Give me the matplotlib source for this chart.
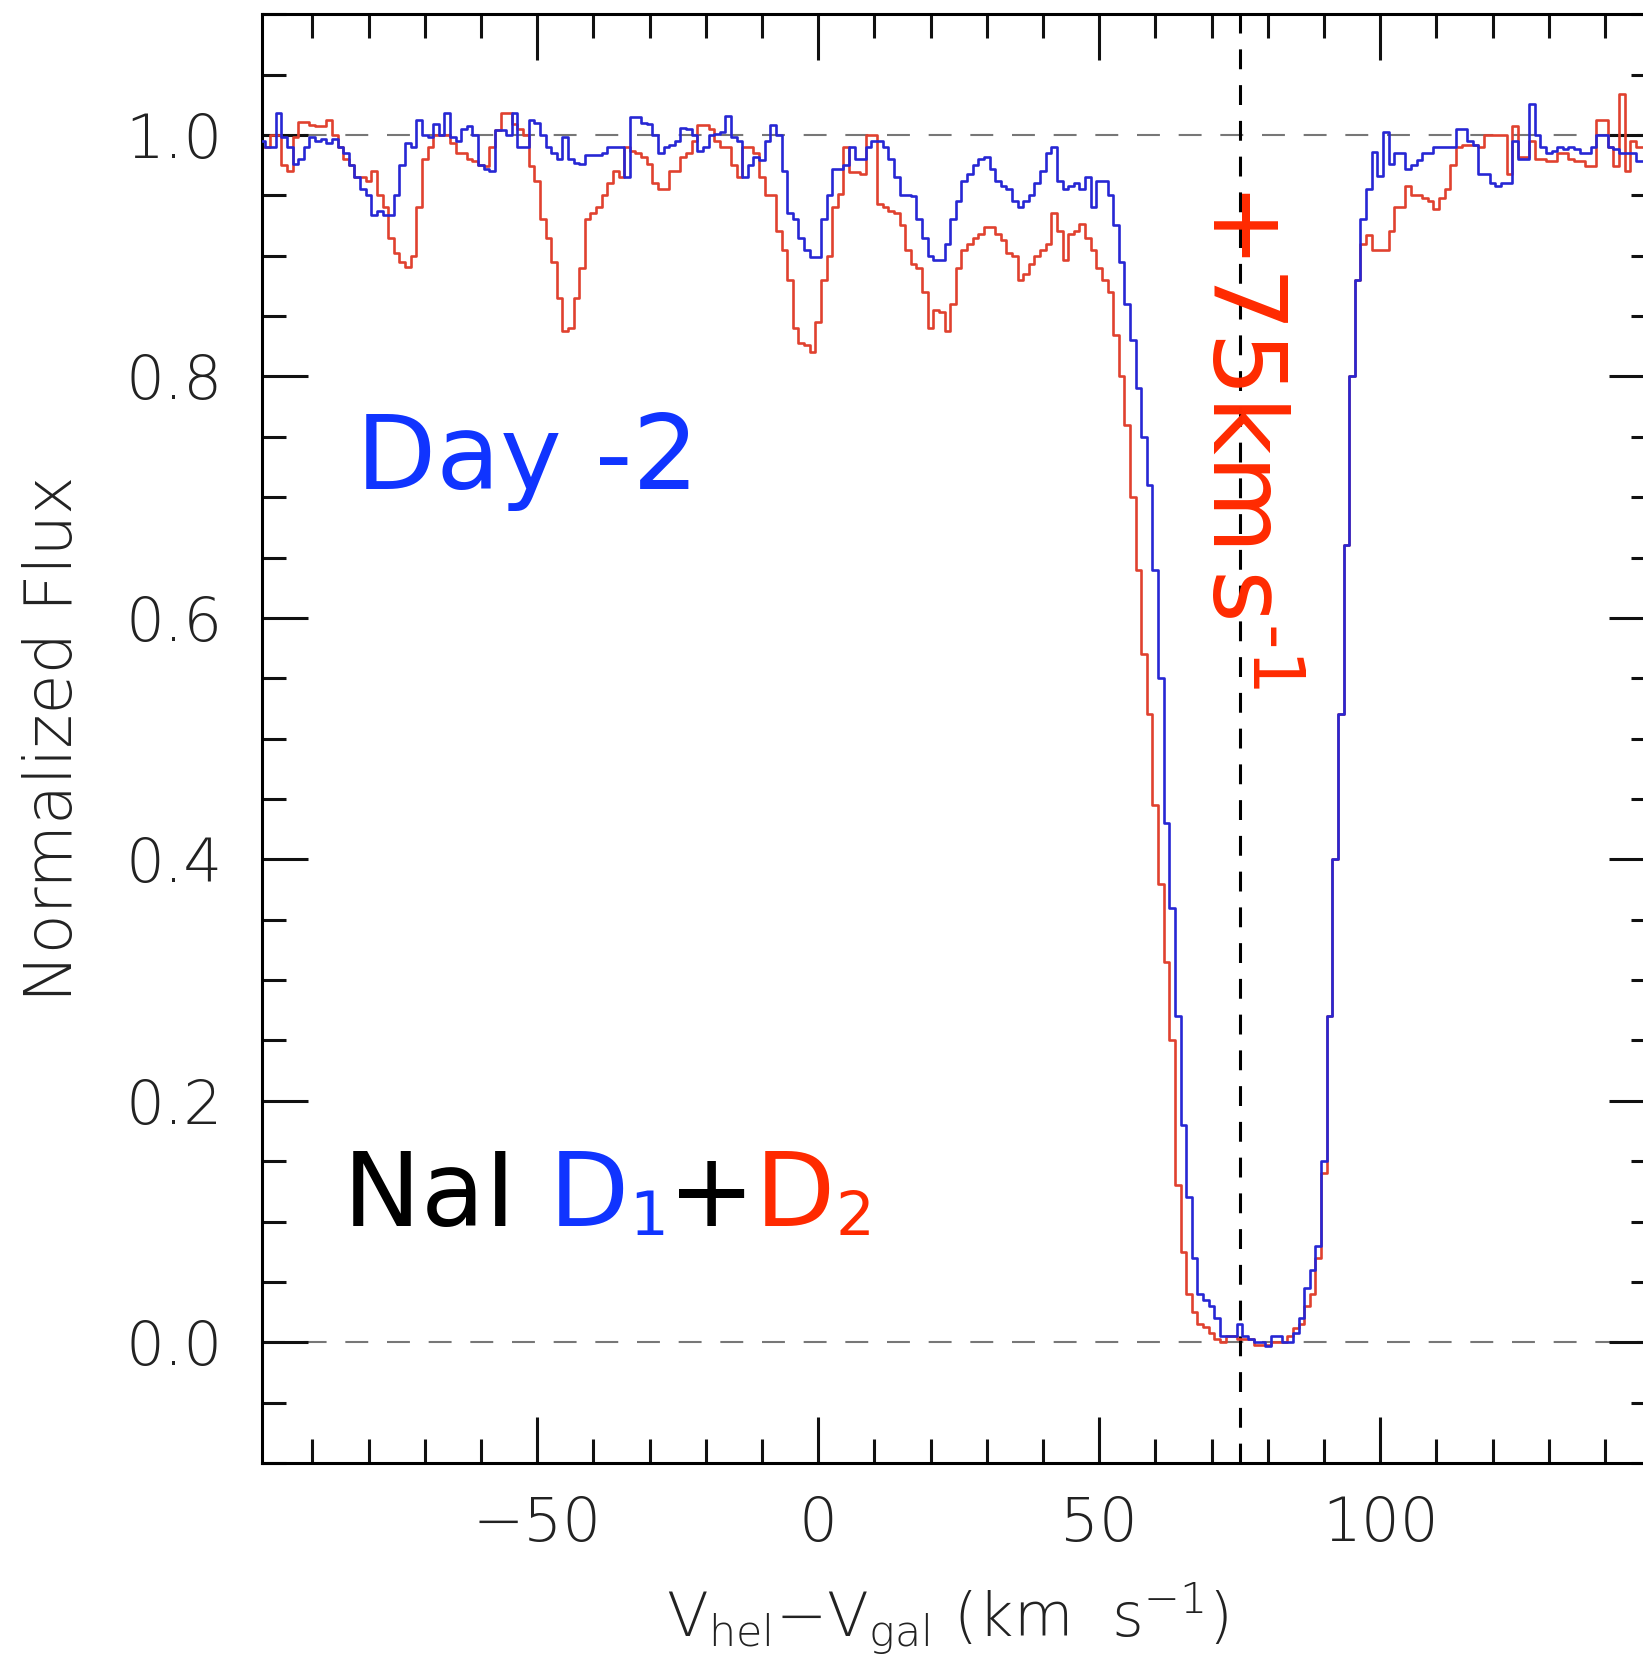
import matplotlib
matplotlib.use('Agg')
import matplotlib.pyplot as plt
from matplotlib.ticker import MultipleLocator, FormatStrFormatter
import numpy as np

# velocity bins (km/s), one per value below, starting at -99
v_first = -99

# NaI D1 (blue), normalized flux, v = -99 ... 147
d1_flux = [
    0.995, 0.99, 0.99, 1.018, 0.998, 0.99, 0.976, 0.98, 0.99, 0.998,      # -99
    0.995, 0.997, 0.993, 0.997, 0.99, 0.985, 0.975, 0.965, 0.955, 0.95,   # -89
    0.934, 0.937, 0.934, 0.934, 0.95, 0.975, 0.993, 0.99, 1.012, 1.0,     # -79
    0.998, 1.009, 1.0, 1.018, 0.998, 0.995, 1.005, 1.007, 1.0, 0.975,     # -69
    0.972, 0.97, 1.004, 1.004, 1.0, 1.018, 0.99, 0.99, 1.012, 1.01,       # -59
    1.0, 0.99, 0.985, 0.98, 0.998, 0.98, 0.977, 0.976, 0.983, 0.983,      # -49
    0.983, 0.985, 0.99, 0.99, 0.99, 0.965, 1.015, 1.015, 1.01, 1.009,     # -39
    1.0, 0.985, 0.99, 0.992, 0.995, 1.006, 1.005, 1.0, 0.987, 0.99,       # -29
    1.0, 1.001, 1.002, 1.016, 0.998, 0.995, 0.965, 0.975, 0.982, 0.979,   # -19
    0.995, 1.008, 1.0, 0.97, 0.935, 0.93, 0.915, 0.905, 0.899, 0.899,     # -9
    0.93, 0.95, 0.972, 0.972, 0.975, 0.99, 0.98, 0.98, 0.99, 0.995,       # 1
    0.995, 0.99, 0.98, 0.965, 0.95, 0.95, 0.949, 0.93, 0.915, 0.9,        # 11
    0.896, 0.896, 0.91, 0.93, 0.945, 0.962, 0.968, 0.975, 0.98, 0.982,    # 21
    0.972, 0.962, 0.958, 0.955, 0.945, 0.94, 0.945, 0.95, 0.96, 0.97,     # 31
    0.985, 0.99, 0.962, 0.955, 0.958, 0.96, 0.955, 0.965, 0.94, 0.962,    # 41
    0.962, 0.95, 0.925, 0.895, 0.86, 0.83, 0.79, 0.75, 0.71, 0.64,        # 51
    0.55, 0.43, 0.36, 0.27, 0.18, 0.12, 0.07, 0.04, 0.035, 0.03,          # 61
    0.02, 0.005, 0.005, 0.005, 0.015, 0.005, 0.003, 0.0, 0.0, -0.003,     # 71
    0.005, 0.005, 0.0, 0.0, 0.008, 0.02, 0.045, 0.06, 0.08, 0.15,         # 81
    0.27, 0.40, 0.52, 0.66, 0.80, 0.88, 0.93, 0.955, 0.986, 0.966,        # 91
    1.002, 0.976, 0.985, 0.985, 0.972, 0.975, 0.979, 0.985, 0.985, 0.99,  # 101
    0.99, 0.99, 0.99, 1.005, 1.005, 0.995, 0.992, 0.968, 0.968, 0.96,     # 111
    0.958, 0.96, 0.96, 0.995, 0.98, 0.98, 1.026, 1.0, 0.99, 0.985,        # 121
    0.987, 0.99, 0.988, 0.99, 0.988, 0.985, 0.985, 0.99, 1.0, 1.0,        # 131
    0.99, 0.988, 0.985, 0.985, 0.985, 0.978, 0.978,                       # 141
]

# NaI D2 (red), normalized flux, v = -99 ... 147
d2_flux = [
    0.99, 0.99, 1.0, 1.0, 0.975, 0.97, 0.998, 1.011, 1.011, 1.008,        # -99
    1.007, 1.007, 1.012, 1.0, 0.99, 0.98, 0.975, 0.965, 0.965, 0.962,     # -89
    0.97, 0.95, 0.94, 0.915, 0.902, 0.895, 0.891, 0.9, 0.94, 0.98,        # -79
    0.99, 1.0, 1.0, 1.0, 0.993, 0.985, 0.985, 0.98, 0.978, 0.975,         # -69
    0.974, 0.99, 1.004, 1.018, 1.018, 1.009, 1.005, 1.0, 0.974, 0.962,    # -59
    0.93, 0.915, 0.895, 0.865, 0.838, 0.84, 0.865, 0.89, 0.93, 0.935,     # -49
    0.94, 0.95, 0.96, 0.97, 0.965, 0.99, 0.987, 0.985, 0.982, 0.976,      # -39
    0.96, 0.955, 0.955, 0.97, 0.97, 0.982, 0.985, 0.995, 1.008, 1.008,    # -29
    1.005, 0.995, 0.99, 0.99, 0.975, 0.965, 0.99, 0.99, 0.985, 0.965,     # -19
    0.95, 0.95, 0.92, 0.905, 0.88, 0.84, 0.828, 0.826, 0.82, 0.845,       # -9
    0.88, 0.9, 0.94, 0.951, 0.99, 0.969, 0.969, 0.968, 1.0, 1.0,          # 1
    0.943, 0.94, 0.937, 0.935, 0.925, 0.905, 0.893, 0.89, 0.87, 0.84,     # 11
    0.855, 0.853, 0.838, 0.86, 0.89, 0.905, 0.91, 0.915, 0.918, 0.924,    # 21
    0.924, 0.918, 0.913, 0.902, 0.9, 0.88, 0.885, 0.893, 0.9, 0.905,      # 31
    0.91, 0.935, 0.92, 0.896, 0.918, 0.92, 0.926, 0.915, 0.905, 0.89,     # 41
    0.88, 0.87, 0.834, 0.80, 0.76, 0.70, 0.64, 0.57, 0.52, 0.445,         # 51
    0.38, 0.315, 0.25, 0.13, 0.075, 0.04, 0.025, 0.015, 0.013, 0.008,     # 61
    0.003, 0.0, 0.005, 0.005, 0.003, 0.003, 0.003, -0.002, -0.002, -0.002,  # 71
    0.0, 0.0, 0.0, 0.005, 0.012, 0.015, 0.03, 0.04, 0.07, 0.14,           # 81
    0.27, 0.40, 0.52, 0.66, 0.80, 0.88, 0.91, 0.917, 0.905, 0.905,        # 91
    0.905, 0.92, 0.94, 0.94, 0.958, 0.95, 0.95, 0.948, 0.945, 0.939,      # 101
    0.948, 0.955, 0.975, 0.99, 0.992, 0.992, 0.992, 0.99, 1.0, 1.0,       # 111
    1.0, 1.0, 0.968, 1.007, 0.982, 0.982, 0.995, 0.98, 0.98, 0.978,       # 121
    0.978, 0.985, 0.985, 0.98, 0.978, 0.978, 0.974, 0.974, 1.012, 1.012,  # 131
    0.99, 0.974, 1.034, 0.97, 0.995, 0.99, 0.99,                          # 141
]

v_cloud = 75          # marked velocity, km/s
day_label = 'Day -2'

vel = np.arange(v_first, v_first + len(d1_flux))

red_line = '#e0412f'
blue_line = '#2727d4'
red_txt = '#ff2a00'
blue_txt = '#1034ff'

# light roman for the axis labels in mathtext, normal sans for annotations
plt.rcParams['mathtext.fontset'] = 'custom'
plt.rcParams['mathtext.rm'] = 'DejaVu Sans:light'
plt.rcParams['mathtext.sf'] = 'DejaVu Sans'
plt.rcParams['mathtext.it'] = 'DejaVu Sans:italic'
plt.rcParams['mathtext.bf'] = 'DejaVu Sans:bold'

fig = plt.figure(figsize=(16.43, 16.66), dpi=100)
ax = fig.add_axes([0.1593, 0.1218, 0.8483, 0.8697])

ax.axhline(1.0, color='#777777', lw=1.5, dashes=(11, 9), zorder=1)
ax.axhline(0.0, color='#777777', lw=1.5, dashes=(11, 9), zorder=1)
ax.axvline(v_cloud, color='black', lw=2.2, dashes=(6.5, 5.2), zorder=1)

ax.step(vel, d2_flux, where='mid', color=red_line, lw=1.9, zorder=2)
ax.step(vel, d1_flux, where='mid', color=blue_line, lw=1.9, zorder=3)

ax.set_xlim(-99, 149)
ax.set_ylim(-0.1, 1.1)

ax.xaxis.set_major_locator(MultipleLocator(50))
ax.xaxis.set_minor_locator(MultipleLocator(10))
ax.yaxis.set_major_locator(MultipleLocator(0.2))
ax.yaxis.set_minor_locator(MultipleLocator(0.05))
ax.yaxis.set_major_formatter(FormatStrFormatter('%.1f'))

ax.tick_params(which='both', direction='in', top=True, right=True, width=2.2, color='#111111')
ax.tick_params(which='major', length=33)
ax.tick_params(which='minor', length=17)
ax.tick_params(axis='x', labelsize=44, pad=23, labelcolor='#222222')
ax.tick_params(axis='y', labelsize=44, pad=28, labelcolor='#222222')
for lab in ax.get_xticklabels() + ax.get_yticklabels():
    lab.set_fontweight('light')
for s in ax.spines.values():
    s.set_linewidth(2.2)

ax.set_xlabel(r'V$_{\rm hel}$$-$V$_{\rm gal}$ (km  s$^{-1}$)', fontsize=44,
              fontweight='light', color='#222222')
ax.xaxis.set_label_coords(0.492, -0.081)
ax.set_ylabel('Normalized Flux', fontsize=47, fontweight='light', color='#222222')
ax.yaxis.set_label_coords(-0.126, 0.5)

ax.text(-82.2, 0.707, day_label, color=blue_txt, fontsize=75, va='baseline')

ax.text(70.2, 0.962, '+75km$\\,$s$^{\\mathsf{\u20101}}$', color=red_txt, fontsize=73,
        rotation=-90, rotation_mode='anchor', ha='left', va='baseline')

# "NaI D1+D2": pieces chained one after another, subscripts smaller
pieces = [('NaI ', 'black', 75), ('D', blue_txt, 75), ('1', blue_txt, 44),
          ('+', 'black', 75), ('D', red_txt, 75), ('2', red_txt, 44)]
prev = ax.text(-84.5, 0.096, pieces[0][0], color=pieces[0][1],
               fontsize=pieces[0][2], va='baseline')
for txt, col, size in pieces[1:]:
    prev = ax.annotate(txt, xy=(1, 0), xycoords=prev, color=col, fontsize=size,
                       ha='left', va='bottom')

fig.savefig('out.png', dpi=100)
